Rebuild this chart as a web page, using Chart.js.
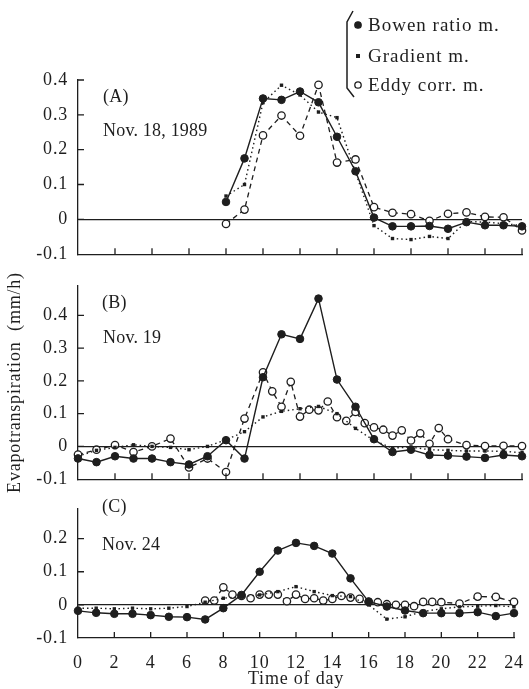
<!DOCTYPE html>
<html>
<head>
<meta charset="utf-8">
<script src="https://cdn.jsdelivr.net/npm/chart.js@4.4.1/dist/chart.umd.min.js"></script>
<style>
html,body{margin:0;padding:0;background:#fff}
#wrap{position:relative;width:529px;height:689px;overflow:hidden}
.pane{position:absolute;left:0;width:529px}
</style>
</head>
<body>
<div id="wrap">
  <div class="pane" style="top:0;height:275px"><canvas id="cA"></canvas></div>
  <div class="pane" style="top:265px;height:235px"><canvas id="cB"></canvas></div>
  <div class="pane" style="top:488px;height:201px"><canvas id="cC"></canvas></div>
</div>
<script>
// values (mm/h)
var xTicks = [0,2,4,6,8,10,12,14,16,18,20,22,24];
var yTicksA = [-0.1,0,0.1,0.2,0.3,0.4];
var yTicksB = [-0.1,0,0.1,0.2,0.3,0.4];
var yTicksC = [-0.1,0,0.1,0.2];

// (A) Nov. 18, 1989
var hoursA = [8,9,10,11,12,13,14,15,16,17,18,19,20,21,22,23,24];
var bowenA = [0.05,0.175,0.347,0.343,0.367,0.336,0.237,0.138,0.005,-0.02,-0.02,-0.019,-0.027,-0.008,-0.017,-0.017,-0.02];
var gradA  = [0.067,0.10,0.335,0.385,0.357,0.308,0.292,0.135,-0.018,-0.055,-0.058,-0.049,-0.055,-0.006,-0.008,-0.012,-0.018];
var eddyA  = [-0.013,0.028,0.241,0.298,0.24,0.386,0.163,0.172,0.035,0.019,0.015,-0.004,0.016,0.02,0.007,0.006,-0.032];

// (B) Nov. 19
var hoursB = [0,1,2,3,4,5,6,7,8,9,10,11,12,13,14,15,16,17,18,19,20,21,22,23,24];
var bowenB = [-0.037,-0.048,-0.03,-0.037,-0.037,-0.048,-0.055,-0.03,0.019,-0.037,0.211,0.342,0.328,0.451,0.204,0.121,0.022,-0.017,-0.01,-0.026,-0.028,-0.031,-0.035,-0.026,-0.03];
var gradB  = [-0.03,-0.012,-0.003,0.005,0.0,-0.003,-0.01,0.0,0.02,0.045,0.09,0.107,0.115,0.122,0.1,0.055,0.018,-0.005,-0.002,-0.01,-0.012,-0.014,-0.014,-0.015,-0.019];
var eddyHoursB = [0,1,2,3,4,5,6,7,8,9,10,10.5,11,11.5,12,12.5,13,13.5,14,14.5,15,15.5,16,16.5,17,17.5,18,18.5,19,19.5,20,21,22,23,24];
var eddyB  = [-0.025,-0.01,0.004,-0.017,0.0,0.024,-0.064,-0.037,-0.078,0.085,0.226,0.168,0.121,0.197,0.091,0.112,0.11,0.137,0.089,0.078,0.105,0.071,0.058,0.051,0.033,0.049,0.018,0.04,0.008,0.056,0.022,0.004,0.001,0.002,0.001];

// (C) Nov. 24
var hoursC = [0,1,2,3,4,5,6,7,8,9,10,11,12,13,14,15,16,17,18,19,20,21,22,23,24];
var bowenC = [-0.018,-0.024,-0.027,-0.027,-0.031,-0.036,-0.037,-0.044,-0.01,0.03,0.1,0.164,0.187,0.178,0.155,0.08,0.01,-0.005,-0.017,-0.025,-0.025,-0.025,-0.022,-0.034,-0.025];
var gradC  = [-0.01,-0.01,-0.012,-0.01,-0.012,-0.01,-0.005,0.008,0.02,0.025,0.03,0.04,0.055,0.04,0.028,0.025,0.0,-0.043,-0.036,-0.02,-0.012,-0.006,-0.004,-0.002,-0.006];
var eddyHoursC = [7,7.5,8,8.5,9,9.5,10,10.5,11,11.5,12,12.5,13,13.5,14,14.5,15,15.5,16,16.5,17,17.5,18,18.5,19,19.5,20,21,22,23,24];
var eddyC  = [0.013,0.013,0.053,0.031,0.027,0.02,0.031,0.031,0.031,0.011,0.031,0.018,0.02,0.013,0.018,0.027,0.022,0.018,0.009,0.008,0.002,0.0,0.0,-0.004,0.009,0.009,0.008,0.004,0.025,0.024,0.009];

var ink = '#1e1e1e';
var serif = "'Liberation Serif', 'Times New Roman', serif";
Chart.defaults.font.family = serif;
Chart.defaults.color = ink;

var pts = (xs, ys) => xs.map((h, i) => ({x: h, y: ys[i]}));

var series = (hb, b, hg, g, he, e) => [
  {label: 'Bowen ratio m.', data: pts(hb, b), borderColor: ink, backgroundColor: ink,
   borderWidth: 1.4, pointStyle: 'circle', pointRadius: 3.8, pointBorderWidth: 1, pointBackgroundColor: ink},
  {label: 'Gradient m.', data: pts(hg, g), borderColor: ink, backgroundColor: ink,
   borderWidth: 1.4, borderDash: [1.5, 3], pointStyle: 'rect', pointRadius: 2.4, pointBorderWidth: 0, pointBackgroundColor: ink},
  {label: 'Eddy corr. m.', data: pts(he, e), borderColor: ink, backgroundColor: '#fff',
   borderWidth: 1.3, borderDash: [5, 4], pointStyle: 'circle', pointRadius: 3.7, pointBorderWidth: 1.3, pointBackgroundColor: '#fff'}
];

// tick marks pointing into the plot, like the printed figure
var inTicks = {
  id: 'inTicks',
  afterDraw(chart) {
    let ctx = chart.ctx, a = chart.chartArea, sx = chart.scales.x, sy = chart.scales.y;
    ctx.save();
    ctx.strokeStyle = ink; ctx.lineWidth = 1.3;
    ctx.beginPath();
    sy.ticks.forEach(t => {
      if (t.value <= sy.min) return;
      let py = sy.getPixelForValue(t.value);
      ctx.moveTo(a.left, py); ctx.lineTo(a.left + 6, py);
    });
    xTicks.forEach(v => {
      if (v <= sx.min) return;
      let px = sx.getPixelForValue(v);
      ctx.moveTo(px, a.bottom); ctx.lineTo(px, a.bottom - 6);
    });
    ctx.stroke();
    ctx.restore();
  }
};

var panelText = {
  id: 'panelText',
  afterDraw(chart, args, opts) {
    let ctx = chart.ctx;
    ctx.save();
    ctx.letterSpacing = '0.2px';
    ctx.fillStyle = ink;
    ctx.font = '18px ' + serif;
    ctx.textBaseline = 'alphabetic';
    (opts.lines || []).forEach(l => ctx.fillText(l.text, l.x, l.y));
    ctx.restore();
  }
};

// bracketed legend at top right of panel A
var braceLegend = {
  id: 'braceLegend',
  afterDraw(chart, args, opts) {
    if (!opts.show) return;
    let ctx = chart.ctx;
    ctx.save();
    ctx.strokeStyle = ink; ctx.fillStyle = ink; ctx.lineWidth = 1.5;
    ctx.beginPath();
    ctx.moveTo(353, 11); ctx.lineTo(347, 22); ctx.lineTo(347, 88); ctx.lineTo(354, 97);
    ctx.stroke();
    ctx.font = '19px ' + serif;
    ctx.letterSpacing = '1px';
    ctx.textBaseline = 'middle';
    let rows = [25, 56, 85];
    chart.data.datasets.forEach((ds, i) => {
      let y = rows[i];
      ctx.beginPath();
      if (ds.pointStyle === 'rect') {
        ctx.fillRect(356, y - 2, 4, 4);
      } else {
        ctx.arc(358, y, 3.2, 0, Math.PI * 2);
        ctx.fillStyle = ds.pointBackgroundColor; ctx.fill();
        ctx.lineWidth = 1.3; ctx.stroke();
      }
      ctx.fillStyle = ink;
      ctx.fillText(ds.label, 368, y + 1);
    });
    ctx.restore();
  }
};

var spacing = {
  id: 'spacing',
  beforeDraw(chart) { chart.ctx.letterSpacing = '0.8px'; }
};

function makePanel(id, o) {
  return new Chart(document.getElementById(id), {
    type: 'line',
    data: {datasets: o.datasets},
    options: {
      responsive: true,
      maintainAspectRatio: false,
      animation: false,
      clip: false,
      layout: {padding: {left: 0, right: 7, top: o.padTop, bottom: 0}},
      plugins: {
        legend: {display: false},
        tooltip: {enabled: false},
        panelText: {lines: o.text},
        braceLegend: {show: !!o.legend}
      },
      scales: {
        x: {
          type: 'linear', min: 0, max: 24,
          afterBuildTicks: s => { s.ticks = xTicks.map(v => ({value: v})); },
          afterFit: s => { s.height = o.xHeight; },
          grid: {display: false},
          border: {display: true, color: ink, width: 1.3},
          ticks: {display: !!o.xLabels, padding: 6, font: {size: 18}, color: ink, maxRotation: 0, autoSkip: false},
          title: {display: !!o.xLabels, text: 'Time of day', font: {size: 18}, color: ink, padding: {top: 0, bottom: -1}}
        },
        y: {
          min: o.ymin, max: o.ymax,
          afterBuildTicks: s => { s.ticks = o.yTicks.map(v => ({value: v})); },
          afterFit: s => { s.width = 78; },
          grid: {
            drawTicks: false,
            lineWidth: 1.2,
            color: c => (c.tick && c.tick.value === 0) ? ink : 'rgba(0,0,0,0)'
          },
          border: {display: true, color: ink, width: 1.3},
          ticks: {padding: 10, font: {size: 18}, color: ink, callback: v => String(Math.round(v * 10) / 10)},
          title: {display: !!o.yTitle, text: 'Evapotranspiration  (mm/h)', font: {size: 18}, color: ink, padding: {top: 4, bottom: 0}}
        }
      }
    },
    plugins: [spacing, inTicks, panelText, braceLegend]
  });
}

makePanel('cA', {
  datasets: series(hoursA, bowenA, hoursA, gradA, hoursA, eddyA),
  ymin: -0.1, ymax: 0.4, yTicks: yTicksA, padTop: 80, xHeight: 8, legend: true,
  text: [{text: '(A)', x: 103, y: 102}, {text: 'Nov. 18, 1989', x: 103, y: 136}]
});

makePanel('cB', {
  datasets: series(hoursB, bowenB, hoursB, gradB, eddyHoursB, eddyB),
  ymin: -0.1, ymax: 0.49, yTicks: yTicksB, padTop: 7, xHeight: 11, yTitle: true,
  text: [{text: '(B)', x: 102, y: 43}, {text: 'Nov. 19', x: 103, y: 78}]
});

makePanel('cC', {
  datasets: series(hoursC, bowenC, hoursC, gradC, eddyHoursC, eddyC),
  ymin: -0.1, ymax: 0.29, yTicks: yTicksC, padTop: 7, xHeight: 51, xLabels: true,
  text: [{text: '(C)', x: 102, y: 24}, {text: 'Nov. 24', x: 102, y: 62}]
});
</script>
</body>
</html>
